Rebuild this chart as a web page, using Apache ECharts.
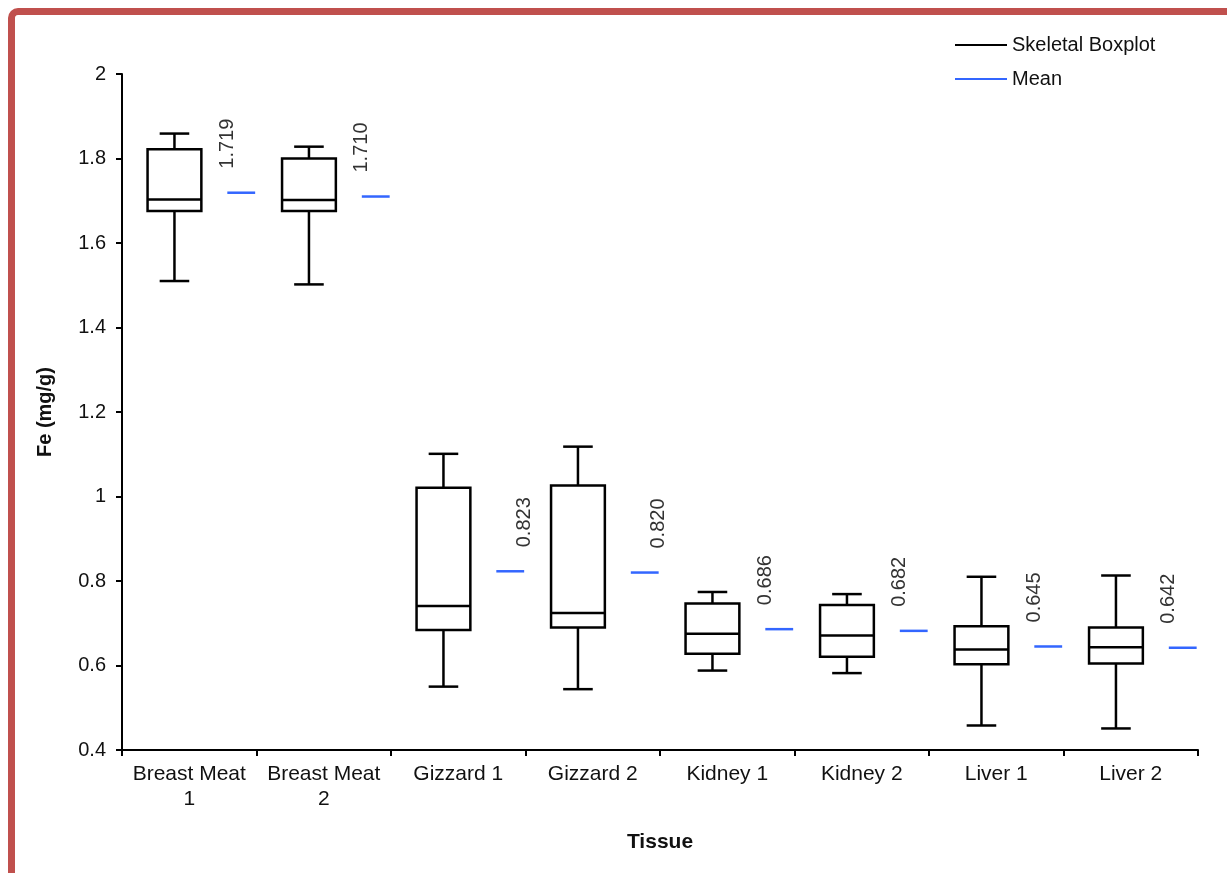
<!DOCTYPE html>
<html>
<head>
<meta charset="utf-8">
<script src="https://cdn.jsdelivr.net/npm/echarts@6/dist/echarts.min.js"></script>
<style>
html,body{margin:0;padding:0;background:#fff;overflow:hidden;}
#chart{position:absolute;left:0;top:0;width:1227px;height:873px;}
#frame{position:absolute;left:8px;top:8px;width:1400px;height:1000px;border-top:7px solid #C0504D;border-left:7px solid #C0504D;border-top-left-radius:10px;pointer-events:none;}
</style>
</head>
<body>
<div id="chart"></div>
<div id="frame"></div>
<script>
// ---- data ----
const categories = ['Breast Meat\n1','Breast Meat\n2','Gizzard 1','Gizzard 2','Kidney 1','Kidney 2','Liver 1','Liver 2'];
const whiskerMin = [1.510, 1.502, 0.550, 0.544, 0.588, 0.582, 0.458, 0.451];
const quartile1  = [1.676, 1.676, 0.684, 0.690, 0.628, 0.621, 0.603, 0.605];
const medians    = [1.703, 1.702, 0.741, 0.724, 0.675, 0.671, 0.638, 0.643];
const quartile3  = [1.822, 1.800, 1.021, 1.026, 0.747, 0.743, 0.693, 0.690];
const whiskerMax = [1.859, 1.828, 1.101, 1.118, 0.774, 0.769, 0.810, 0.813];
const means      = [1.719, 1.710, 0.823, 0.820, 0.686, 0.682, 0.645, 0.642];
const yTicks = { min: 0.4, max: 2, interval: 0.2 };

// ---- styles (band-relative) ----
const BOX_SHIFT = -0.11, BOX_W = 0.40, CAP_W = 0.22;
const MEAN_L = 0.283, MEAN_R = 0.49;
const labelAtRight = [false,false,true,true,false,false,false,false];
const BLUE = '#3366FF';
const FONT = 'Liberation Sans, Arial, sans-serif';

const boxData = categories.map((c,i)=>[i, whiskerMin[i], quartile1[i], medians[i], quartile3[i], whiskerMax[i]]);
const meanData = categories.map((c,i)=>[i, means[i]]);

function renderBox(params, api){
  const i = api.value(0);
  const band = api.size([1,0])[0];
  const cx = api.coord([i, 0.4])[0] + BOX_SHIFT*band;
  const w = BOX_W*band, cap = CAP_W*band;
  const y = k => api.coord([i, api.value(k)])[1];
  const yMin=y(1), yQ1=y(2), yMed=y(3), yQ3=y(4), yMax=y(5);
  const st = {stroke:'#000', lineWidth:2.5, fill:null};
  return {type:'group', children:[
    {type:'line', shape:{x1:cx, y1:yMax, x2:cx, y2:yQ3}, style:st},
    {type:'line', shape:{x1:cx-cap/2, y1:yMax, x2:cx+cap/2, y2:yMax}, style:st},
    {type:'rect', shape:{x:cx-w/2, y:yQ3, width:w, height:yQ1-yQ3}, style:{stroke:'#000', lineWidth:2.5, fill:'#fff'}},
    {type:'line', shape:{x1:cx-w/2, y1:yMed, x2:cx+w/2, y2:yMed}, style:st},
    {type:'line', shape:{x1:cx, y1:yQ1, x2:cx, y2:yMin}, style:st},
    {type:'line', shape:{x1:cx-cap/2, y1:yMin, x2:cx+cap/2, y2:yMin}, style:st}
  ]};
}

function renderMean(params, api){
  const i = api.value(0);
  const v = api.value(1);
  const band = api.size([1,0])[0];
  const p = api.coord([i, v]);
  const x1 = p[0] + MEAN_L*band, x2 = p[0] + MEAN_R*band;
  const lx = labelAtRight[i] ? x2 : x1;
  return {type:'group', children:[
    {type:'line', shape:{x1:x1, y1:p[1], x2:x2, y2:p[1]}, style:{stroke:BLUE, lineWidth:2.5}},
    {type:'text', x:lx, y:p[1]-24, rotation:Math.PI/2,
     style:{text:v.toFixed(3), fill:'#333', fontSize:20, fontFamily:FONT, align:'left', verticalAlign:'middle'}}
  ]};
}

const chart = echarts.init(document.getElementById('chart'));
chart.setOption({
  animation:false,
  backgroundColor:'#fff',
  textStyle:{fontFamily:FONT},
  grid:{left:122, right:29, top:74, bottom:123},
  legend:{
    orient:'vertical', left:950, top:30, itemWidth:52, itemHeight:2, itemGap:14, icon:'rect',
    textStyle:{fontSize:20, color:'#111', fontFamily:FONT},
    data:['Skeletal Boxplot','Mean']
  },
  xAxis:{
    type:'category', data:categories, boundaryGap:true,
    name:'Tissue', nameLocation:'middle', nameGap:82,
    nameTextStyle:{fontSize:21, fontWeight:'bold', color:'#111'},
    axisLine:{lineStyle:{color:'#000', width:2}},
    axisTick:{show:true, length:6, lineStyle:{color:'#000', width:2}},
    axisLabel:{fontSize:21, color:'#111', lineHeight:25, margin:12, interval:0}
  },
  yAxis:{
    type:'value', min:yTicks.min, max:yTicks.max, interval:yTicks.interval,
    name:'Fe (mg/g)', nameLocation:'middle', nameGap:67,
    nameTextStyle:{fontSize:20, fontWeight:'bold', color:'#111'},
    axisLine:{show:true, lineStyle:{color:'#000', width:2}},
    axisTick:{show:true, length:6, lineStyle:{color:'#000', width:2}},
    axisLabel:{fontSize:20, color:'#111', margin:16},
    splitLine:{show:false}
  },
  series:[
    {name:'Skeletal Boxplot', type:'custom', renderItem:renderBox, data:boxData,
     itemStyle:{color:'#000'}, encode:{x:0, y:[1,2,3,4,5]}, clip:false},
    {name:'Mean', type:'custom', renderItem:renderMean, data:meanData,
     itemStyle:{color:BLUE}, encode:{x:0, y:1}, clip:false}
  ]
});
</script>
</body>
</html>
